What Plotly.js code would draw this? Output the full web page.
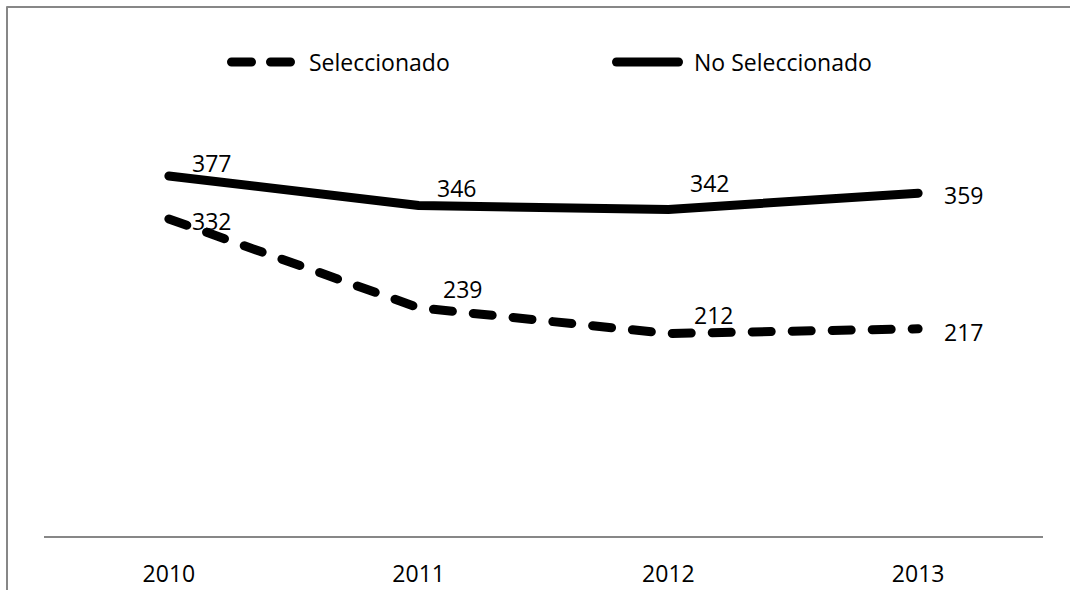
<!DOCTYPE html>
<html>
<head>
<meta charset="utf-8">
<script src="https://cdn.plot.ly/plotly-3.0.1.min.js"></script>
<style>
  html, body { margin: 0; padding: 0; background: #fff; }
  #chart { width: 1070px; height: 590px; }
  .js-line, .shapelayer path { stroke-linecap: round !important; stroke-linejoin: round !important; }
</style>
</head>
<body>
<div id="chart"></div>
<script>
// ---- data ----
const years = ['2010', '2011', '2012', '2013'];
const seleccionado = [332, 239, 212, 217];
const noSeleccionado = [377, 346, 342, 359];
const seriesNames = ['Seleccionado', 'No Seleccionado'];

// label offsets (pixels) relative to each point
const selOffX = [43, 44, 45, 45];
const selOffY = [-2, 19, 19, -3];
const noOffX = [43, 38, 41, 45];
const noOffY = [13, 18, 26, -2];

const FONT = 'Open Sans, Noto Sans, sans-serif';
const W = 1070, H = 590;
const M = { l: 44, r: 27, t: 154, b: 54 };
const PW = W - M.l - M.r, PH = H - M.t - M.b;
const px = X => (X - M.l) / PW;
const py = Y => (H - M.b - Y) / PH;

const traces = [
  {
    x: years, y: seleccionado, name: seriesNames[0], type: 'scatter', mode: 'lines',
    line: { color: '#000', width: 9, dash: '19px,21px' }, showlegend: false, hoverinfo: 'skip'
  },
  {
    x: years, y: noSeleccionado, name: seriesNames[1], type: 'scatter', mode: 'lines',
    line: { color: '#000', width: 9 }, showlegend: false, hoverinfo: 'skip'
  }
];

const annotations = [];
function addLabels(vals, offX, offY) {
  vals.forEach((v, i) => {
    annotations.push({
      x: i, y: v, xref: 'x', yref: 'y', text: String(v), showarrow: false,
      xshift: offX[i], yshift: offY[i], xanchor: 'center', yanchor: 'middle',
      font: { family: FONT, size: 23, color: '#000' }
    });
  });
}
addLabels(seleccionado, selOffX, selOffY);
addLabels(noSeleccionado, noOffX, noOffY);

// legend text
annotations.push({
  x: px(307), y: py(62), xref: 'paper', yref: 'paper', text: seriesNames[0], showarrow: false,
  xanchor: 'left', yanchor: 'middle', font: { family: FONT, size: 23, color: '#000' }
});
annotations.push({
  x: px(692), y: py(62), xref: 'paper', yref: 'paper', text: seriesNames[1], showarrow: false,
  xanchor: 'left', yanchor: 'middle', font: { family: FONT, size: 23, color: '#000' }
});

const shapes = [
  // chart border (top & left visible)
  { type: 'rect', xref: 'paper', yref: 'paper', x0: px(7), x1: px(1100), y0: py(620), y1: py(7),
    line: { color: '#878787', width: 2 }, fillcolor: 'rgba(0,0,0,0)', layer: 'below' },
  // legend samples
  { type: 'line', xref: 'paper', yref: 'paper', x0: px(231.5), x1: px(290.5), y0: py(62), y1: py(62),
    line: { color: '#000', width: 9, dash: '20px,19px' } },
  { type: 'line', xref: 'paper', yref: 'paper', x0: px(616.5), x1: px(678.5), y0: py(62), y1: py(62),
    line: { color: '#000', width: 9 } }
];

const layout = {
  width: W, height: H,
  margin: M,
  paper_bgcolor: '#fff', plot_bgcolor: '#fff',
  showlegend: false,
  xaxis: {
    type: 'category', range: [-0.5, 3.5], showgrid: false, zeroline: false,
    showline: true, linecolor: '#878787', linewidth: 2, ticks: '',
    ticklabelstandoff: 16,
    tickfont: { family: FONT, size: 23, color: '#000' }, fixedrange: true
  },
  yaxis: {
    range: [0, 400], showticklabels: false, showline: false, ticks: '',
    showgrid: false, zeroline: false, fixedrange: true
  },
  shapes: shapes,
  annotations: annotations
};

Plotly.newPlot('chart', traces, layout, { staticPlot: true, displayModeBar: false });
</script>
</body>
</html>
